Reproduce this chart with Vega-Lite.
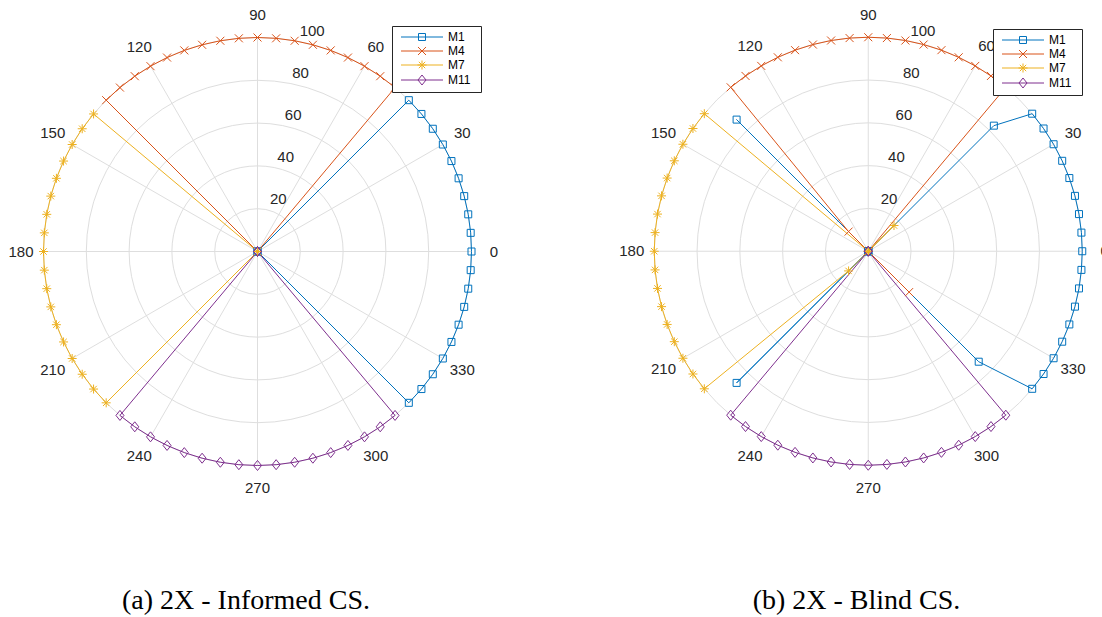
{
"$schema": "https://vega.github.io/schema/vega-lite/v6.json",
"padding": 0,
"spacing": 97,
"bounds": "flush",
"config": {"view": {"stroke": null}},
"resolve": {"scale": {"color": "independent", "shape": "independent", "stroke": "independent"}},
"datasets": {
"circles": [{"r": 20}, {"r": 40}, {"r": 60}, {"r": 80}, {"r": 100}],
"spokes": [{"t": 0, "r": 100}, {"t": 30, "r": 100}, {"t": 60, "r": 100}, {"t": 90, "r": 100}, {"t": 120, "r": 100}, {"t": 150, "r": 100}, {"t": 180, "r": 100}, {"t": 210, "r": 100}, {"t": 240, "r": 100}, {"t": 270, "r": 100}, {"t": 300, "r": 100}, {"t": 330, "r": 100}],
"alabels": [{"t": 0}, {"t": 30}, {"t": 60}, {"t": 90}, {"t": 120}, {"t": 150}, {"t": 180}, {"t": 210}, {"t": 240}, {"t": 270}, {"t": 300}, {"t": 330}],
"rlabels": [{"r": 20}, {"r": 40}, {"r": 60}, {"r": 80}, {"r": 100}],
"a": [
{"s":"M1","o":0,"t":0,"r":0},{"s":"M1","o":1,"t":-45,"r":100},{"s":"M1","o":2,"t":-40,"r":100},{"s":"M1","o":3,"t":-35,"r":100},{"s":"M1","o":4,"t":-30,"r":100},{"s":"M1","o":5,"t":-25,"r":100},{"s":"M1","o":6,"t":-20,"r":100},{"s":"M1","o":7,"t":-15,"r":100},{"s":"M1","o":8,"t":-10,"r":100},{"s":"M1","o":9,"t":-5,"r":100},{"s":"M1","o":10,"t":0,"r":100},{"s":"M1","o":11,"t":5,"r":100},{"s":"M1","o":12,"t":10,"r":100},{"s":"M1","o":13,"t":15,"r":100},{"s":"M1","o":14,"t":20,"r":100},{"s":"M1","o":15,"t":25,"r":100},{"s":"M1","o":16,"t":30,"r":100},{"s":"M1","o":17,"t":35,"r":100},{"s":"M1","o":18,"t":40,"r":100},{"s":"M1","o":19,"t":45,"r":100},{"s":"M1","o":20,"t":0,"r":0},
{"s":"M4","o":0,"t":0,"r":0},{"s":"M4","o":1,"t":50,"r":100},{"s":"M4","o":2,"t":55,"r":100},{"s":"M4","o":3,"t":60,"r":100},{"s":"M4","o":4,"t":65,"r":100},{"s":"M4","o":5,"t":70,"r":100},{"s":"M4","o":6,"t":75,"r":100},{"s":"M4","o":7,"t":80,"r":100},{"s":"M4","o":8,"t":85,"r":100},{"s":"M4","o":9,"t":90,"r":100},{"s":"M4","o":10,"t":95,"r":100},{"s":"M4","o":11,"t":100,"r":100},{"s":"M4","o":12,"t":105,"r":100},{"s":"M4","o":13,"t":110,"r":100},{"s":"M4","o":14,"t":115,"r":100},{"s":"M4","o":15,"t":120,"r":100},{"s":"M4","o":16,"t":125,"r":100},{"s":"M4","o":17,"t":130,"r":100},{"s":"M4","o":18,"t":135,"r":100},{"s":"M4","o":19,"t":0,"r":0},
{"s":"M7","o":0,"t":0,"r":0},{"s":"M7","o":1,"t":140,"r":100},{"s":"M7","o":2,"t":145,"r":100},{"s":"M7","o":3,"t":150,"r":100},{"s":"M7","o":4,"t":155,"r":100},{"s":"M7","o":5,"t":160,"r":100},{"s":"M7","o":6,"t":165,"r":100},{"s":"M7","o":7,"t":170,"r":100},{"s":"M7","o":8,"t":175,"r":100},{"s":"M7","o":9,"t":180,"r":100},{"s":"M7","o":10,"t":185,"r":100},{"s":"M7","o":11,"t":190,"r":100},{"s":"M7","o":12,"t":195,"r":100},{"s":"M7","o":13,"t":200,"r":100},{"s":"M7","o":14,"t":205,"r":100},{"s":"M7","o":15,"t":210,"r":100},{"s":"M7","o":16,"t":215,"r":100},{"s":"M7","o":17,"t":220,"r":100},{"s":"M7","o":18,"t":225,"r":100},{"s":"M7","o":19,"t":0,"r":0},
{"s":"M11","o":0,"t":0,"r":0},{"s":"M11","o":1,"t":230,"r":100},{"s":"M11","o":2,"t":235,"r":100},{"s":"M11","o":3,"t":240,"r":100},{"s":"M11","o":4,"t":245,"r":100},{"s":"M11","o":5,"t":250,"r":100},{"s":"M11","o":6,"t":255,"r":100},{"s":"M11","o":7,"t":260,"r":100},{"s":"M11","o":8,"t":265,"r":100},{"s":"M11","o":9,"t":270,"r":100},{"s":"M11","o":10,"t":275,"r":100},{"s":"M11","o":11,"t":280,"r":100},{"s":"M11","o":12,"t":285,"r":100},{"s":"M11","o":13,"t":290,"r":100},{"s":"M11","o":14,"t":295,"r":100},{"s":"M11","o":15,"t":300,"r":100},{"s":"M11","o":16,"t":305,"r":100},{"s":"M11","o":17,"t":310,"r":100},{"s":"M11","o":18,"t":0,"r":0}
],
"b": [
{"s":"M1","o":0,"t":0,"r":0},{"s":"M1","o":1,"t":135,"r":87},{"s":"M1","o":2,"t":0,"r":0},{"s":"M1","o":3,"t":225,"r":87},{"s":"M1","o":4,"t":0,"r":0},{"s":"M1","o":5,"t":315,"r":73},{"s":"M1","o":6,"t":320,"r":100},{"s":"M1","o":7,"t":325,"r":100},{"s":"M1","o":8,"t":330,"r":100},{"s":"M1","o":9,"t":335,"r":100},{"s":"M1","o":10,"t":340,"r":100},{"s":"M1","o":11,"t":345,"r":100},{"s":"M1","o":12,"t":350,"r":100},{"s":"M1","o":13,"t":355,"r":100},{"s":"M1","o":14,"t":0,"r":100},{"s":"M1","o":15,"t":5,"r":100},{"s":"M1","o":16,"t":10,"r":100},{"s":"M1","o":17,"t":15,"r":100},{"s":"M1","o":18,"t":20,"r":100},{"s":"M1","o":19,"t":25,"r":100},{"s":"M1","o":20,"t":30,"r":100},{"s":"M1","o":21,"t":35,"r":100},{"s":"M1","o":22,"t":40,"r":100},{"s":"M1","o":23,"t":45,"r":83},{"s":"M1","o":24,"t":0,"r":0},
{"s":"M4","o":0,"t":0,"r":0},{"s":"M4","o":1,"t":50,"r":100},{"s":"M4","o":2,"t":55,"r":100},{"s":"M4","o":3,"t":60,"r":100},{"s":"M4","o":4,"t":65,"r":100},{"s":"M4","o":5,"t":70,"r":100},{"s":"M4","o":6,"t":75,"r":100},{"s":"M4","o":7,"t":80,"r":100},{"s":"M4","o":8,"t":85,"r":100},{"s":"M4","o":9,"t":90,"r":100},{"s":"M4","o":10,"t":95,"r":100},{"s":"M4","o":11,"t":100,"r":100},{"s":"M4","o":12,"t":105,"r":100},{"s":"M4","o":13,"t":110,"r":100},{"s":"M4","o":14,"t":115,"r":100},{"s":"M4","o":15,"t":120,"r":100},{"s":"M4","o":16,"t":125,"r":100},{"s":"M4","o":17,"t":130,"r":100},{"s":"M4","o":18,"t":135,"r":13},{"s":"M4","o":19,"t":0,"r":0},{"s":"M4","o":20,"t":315,"r":27},{"s":"M4","o":21,"t":0,"r":0},
{"s":"M7","o":0,"t":0,"r":0},{"s":"M7","o":1,"t":45,"r":17},{"s":"M7","o":2,"t":0,"r":0},{"s":"M7","o":3,"t":140,"r":100},{"s":"M7","o":4,"t":145,"r":100},{"s":"M7","o":5,"t":150,"r":100},{"s":"M7","o":6,"t":155,"r":100},{"s":"M7","o":7,"t":160,"r":100},{"s":"M7","o":8,"t":165,"r":100},{"s":"M7","o":9,"t":170,"r":100},{"s":"M7","o":10,"t":175,"r":100},{"s":"M7","o":11,"t":180,"r":100},{"s":"M7","o":12,"t":185,"r":100},{"s":"M7","o":13,"t":190,"r":100},{"s":"M7","o":14,"t":195,"r":100},{"s":"M7","o":15,"t":200,"r":100},{"s":"M7","o":16,"t":205,"r":100},{"s":"M7","o":17,"t":210,"r":100},{"s":"M7","o":18,"t":215,"r":100},{"s":"M7","o":19,"t":220,"r":100},{"s":"M7","o":20,"t":225,"r":13},{"s":"M7","o":21,"t":0,"r":0},
{"s":"M11","o":0,"t":0,"r":0},{"s":"M11","o":1,"t":230,"r":100},{"s":"M11","o":2,"t":235,"r":100},{"s":"M11","o":3,"t":240,"r":100},{"s":"M11","o":4,"t":245,"r":100},{"s":"M11","o":5,"t":250,"r":100},{"s":"M11","o":6,"t":255,"r":100},{"s":"M11","o":7,"t":260,"r":100},{"s":"M11","o":8,"t":265,"r":100},{"s":"M11","o":9,"t":270,"r":100},{"s":"M11","o":10,"t":275,"r":100},{"s":"M11","o":11,"t":280,"r":100},{"s":"M11","o":12,"t":285,"r":100},{"s":"M11","o":13,"t":290,"r":100},{"s":"M11","o":14,"t":295,"r":100},{"s":"M11","o":15,"t":300,"r":100},{"s":"M11","o":16,"t":305,"r":100},{"s":"M11","o":17,"t":310,"r":100},{"s":"M11","o":18,"t":0,"r":0}
]
},
"hconcat": [
{
"width": 514, "height": 502,
"title": {"text": "(a) 2X - Informed CS.", "orient": "bottom", "anchor": "middle", "offset": 107, "baseline": "alphabetic", "dx": -11, "font": "Liberation Serif", "fontSize": 28, "fontWeight": "normal", "color": "black"},
"resolve": {"scale": {"shape": "independent", "stroke": "independent"}},
"layer": [
{"data": {"name": "circles"},
 "mark": {"type": "point", "shape": "circle", "filled": false, "stroke": "#dedede", "strokeWidth": 1, "opacity": 1},
 "encoding": {
  "x": {"datum": 0, "type": "quantitative", "scale": {"domain": [-120.3271, 119.8598], "nice": false, "zero": false}, "axis": null},
  "y": {"datum": 0, "type": "quantitative", "scale": {"domain": [-117.0561, 117.5234], "nice": false, "zero": false}, "axis": null},
  "size": {"field": "r", "type": "quantitative", "scale": {"type": "pow", "exponent": 2, "domain": [0, 100], "range": [0, 183184]}, "legend": null}
 }},
{"data": {"name": "spokes"},
 "transform": [{"calculate": "datum.r*cos(datum.t*PI/180)", "as": "x"}, {"calculate": "datum.r*sin(datum.t*PI/180)", "as": "y"}, {"calculate": "0", "as": "c"}],
 "mark": {"type": "rule", "stroke": "#dedede", "strokeWidth": 1},
 "encoding": {"x": {"field": "c", "type": "quantitative"}, "y": {"field": "c", "type": "quantitative"}, "x2": {"field": "x"}, "y2": {"field": "y"}}},
{"data": {"name": "alabels"},
 "transform": [{"calculate": "110.5*cos(datum.t*PI/180)", "as": "x"}, {"calculate": "110.5*sin(datum.t*PI/180)", "as": "y"}],
 "mark": {"type": "text", "font": "Liberation Sans", "fontSize": 15, "fill": "#262626", "align": "center", "baseline": "middle"},
 "encoding": {"x": {"field": "x", "type": "quantitative"}, "y": {"field": "y", "type": "quantitative"}, "text": {"field": "t", "type": "quantitative"}}},
{"data": {"name": "rlabels"},
 "transform": [{"calculate": "datum.r*cos(80*PI/180)", "as": "x"}, {"calculate": "datum.r*sin(80*PI/180)", "as": "y"}],
 "mark": {"type": "text", "font": "Liberation Sans", "fontSize": 15, "fill": "#262626", "align": "left", "baseline": "alphabetic", "dx": 5, "dy": -5},
 "encoding": {"x": {"field": "x", "type": "quantitative"}, "y": {"field": "y", "type": "quantitative"}, "text": {"field": "r", "type": "quantitative"}}},
{"data": {"name": "a"},
 "transform": [{"filter": "datum.s == 'M1'"}, {"calculate": "datum.r*cos(datum.t*PI/180)", "as": "x"}, {"calculate": "datum.r*sin(datum.t*PI/180)", "as": "y"}],
 "mark": {"type": "line", "strokeWidth": 1, "stroke": "#0072BD"},
 "encoding": {"x": {"field": "x", "type": "quantitative"}, "y": {"field": "y", "type": "quantitative"}, "order": {"field": "o", "type": "quantitative"}}},
{"data": {"name": "a"},
 "transform": [{"filter": "datum.s == 'M4'"}, {"calculate": "datum.r*cos(datum.t*PI/180)", "as": "x"}, {"calculate": "datum.r*sin(datum.t*PI/180)", "as": "y"}],
 "mark": {"type": "line", "strokeWidth": 1, "stroke": "#D95319"},
 "encoding": {"x": {"field": "x", "type": "quantitative"}, "y": {"field": "y", "type": "quantitative"}, "order": {"field": "o", "type": "quantitative"}}},
{"data": {"name": "a"},
 "transform": [{"filter": "datum.s == 'M7'"}, {"calculate": "datum.r*cos(datum.t*PI/180)", "as": "x"}, {"calculate": "datum.r*sin(datum.t*PI/180)", "as": "y"}],
 "mark": {"type": "line", "strokeWidth": 1, "stroke": "#EDB120"},
 "encoding": {"x": {"field": "x", "type": "quantitative"}, "y": {"field": "y", "type": "quantitative"}, "order": {"field": "o", "type": "quantitative"}}},
{"data": {"name": "a"},
 "transform": [{"filter": "datum.s == 'M11'"}, {"calculate": "datum.r*cos(datum.t*PI/180)", "as": "x"}, {"calculate": "datum.r*sin(datum.t*PI/180)", "as": "y"}],
 "mark": {"type": "line", "strokeWidth": 1, "stroke": "#7E2F8E"},
 "encoding": {"x": {"field": "x", "type": "quantitative"}, "y": {"field": "y", "type": "quantitative"}, "order": {"field": "o", "type": "quantitative"}}},
{"data": {"name": "a"},
 "transform": [{"calculate": "datum.r*cos(datum.t*PI/180)", "as": "x"}, {"calculate": "datum.r*sin(datum.t*PI/180)", "as": "y"}],
 "mark": {"type": "point", "filled": false, "size": 64, "strokeWidth": 1, "opacity": 1},
 "encoding": {"x": {"field": "x", "type": "quantitative"}, "y": {"field": "y", "type": "quantitative"},
  "color": {"field": "s", "type": "nominal", "scale": {"domain": ["M1", "M4", "M7", "M11"], "range": ["#0072BD", "#D95319", "#EDB120", "#7E2F8E"]}, "legend": null},
  "shape": {"field": "s", "type": "nominal", "scale": {"domain": ["M1", "M4", "M7", "M11"], "range": ["M-0.875,-0.875H0.875V0.875H-0.875Z", "M-1,-1L1,1M-1,1L1,-1", "M-1.125,0H1.125M0,-1.125V1.125M-0.8,-0.8L0.8,0.8M-0.8,0.8L0.8,-0.8", "M0,-1.25L1,0L0,1.25L-1,0Z"]}, "legend": null}
 }},
{"data": {"name": "a"},
 "transform": [{"filter": "datum.o == 0"}],
 "mark": {"type": "point", "filled": false, "size": 144, "strokeWidth": 1, "opacity": 0},
 "encoding": {"x": {"datum": 0, "type": "quantitative"}, "y": {"datum": 0, "type": "quantitative"},
  "stroke": {"field": "s", "type": "nominal", "scale": {"domain": ["M1", "M4", "M7", "M11"], "range": ["#0072BD", "#D95319", "#EDB120", "#7E2F8E"]},
   "legend": {"orient": "none", "legendX": 392, "legendY": 26, "title": " ", "titleOrient": "right", "titlePadding": 6, "titleFontSize": 12, "symbolSize": 144, "symbolStrokeWidth": 1, "symbolOffset": 4, "symbolOpacity": 1, "symbolFillColor": "transparent", "labelOffset": 34.5, "labelFont": "Liberation Sans", "labelFontSize": 12, "labelColor": "black", "padding": 4.5, "rowPadding": 1, "fillColor": "white", "strokeColor": "#262626"}},
  "shape": {"field": "s", "type": "nominal", "scale": {"domain": ["M1", "M4", "M7", "M11"], "range": ["M-1,0H6M1.917,-0.583H3.083V0.583H1.917Z", "M-1,0H6M1.833,-0.667L3.167,0.667M1.833,0.667L3.167,-0.667", "M-1,0H6M1.75,0H3.25M2.5,-0.75V0.75M1.967,-0.533L3.033,0.533M1.967,0.533L3.033,-0.533", "M-1,0H6M2.5,-0.833L3.167,0L2.5,0.833L1.833,0Z"]},
   "legend": {"orient": "none", "legendX": 392, "legendY": 26, "title": " ", "titleOrient": "right", "titlePadding": 6, "titleFontSize": 12, "symbolSize": 144, "symbolStrokeWidth": 1, "symbolOffset": 4, "symbolOpacity": 1, "symbolFillColor": "transparent", "labelOffset": 34.5, "labelFont": "Liberation Sans", "labelFontSize": 12, "labelColor": "black", "padding": 4.5, "rowPadding": 1, "fillColor": "white", "strokeColor": "#262626"}}
 }}
]
},
{
"width": 491, "height": 502,
"title": {"text": "(b) 2X - Blind CS.", "orient": "bottom", "anchor": "middle", "offset": 107, "baseline": "alphabetic", "font": "Liberation Serif", "fontSize": 28, "fontWeight": "normal", "color": "black"},
"resolve": {"scale": {"shape": "independent", "stroke": "independent"}},
"layer": [
{"data": {"name": "circles"},
 "mark": {"type": "point", "shape": "circle", "filled": false, "stroke": "#dedede", "strokeWidth": 1, "opacity": 1},
 "encoding": {
  "x": {"datum": 0, "type": "quantitative", "scale": {"domain": [-120.2103, 109.2290], "nice": false, "zero": false}, "axis": null},
  "y": {"datum": 0, "type": "quantitative", "scale": {"domain": [-117.1729, 117.4065], "nice": false, "zero": false}, "axis": null},
  "size": {"field": "r", "type": "quantitative", "scale": {"type": "pow", "exponent": 2, "domain": [0, 100], "range": [0, 183184]}, "legend": null}
 }},
{"data": {"name": "spokes"},
 "transform": [{"calculate": "datum.r*cos(datum.t*PI/180)", "as": "x"}, {"calculate": "datum.r*sin(datum.t*PI/180)", "as": "y"}, {"calculate": "0", "as": "c"}],
 "mark": {"type": "rule", "stroke": "#dedede", "strokeWidth": 1},
 "encoding": {"x": {"field": "c", "type": "quantitative"}, "y": {"field": "c", "type": "quantitative"}, "x2": {"field": "x"}, "y2": {"field": "y"}}},
{"data": {"name": "alabels"},
 "transform": [{"calculate": "110.5*cos(datum.t*PI/180)", "as": "x"}, {"calculate": "110.5*sin(datum.t*PI/180)", "as": "y"}],
 "mark": {"type": "text", "font": "Liberation Sans", "fontSize": 15, "fill": "#262626", "align": "center", "baseline": "middle", "clip": true},
 "encoding": {"x": {"field": "x", "type": "quantitative"}, "y": {"field": "y", "type": "quantitative"}, "text": {"field": "t", "type": "quantitative"}}},
{"data": {"name": "rlabels"},
 "transform": [{"calculate": "datum.r*cos(80*PI/180)", "as": "x"}, {"calculate": "datum.r*sin(80*PI/180)", "as": "y"}],
 "mark": {"type": "text", "font": "Liberation Sans", "fontSize": 15, "fill": "#262626", "align": "left", "baseline": "alphabetic", "dx": 5, "dy": -5},
 "encoding": {"x": {"field": "x", "type": "quantitative"}, "y": {"field": "y", "type": "quantitative"}, "text": {"field": "r", "type": "quantitative"}}},
{"data": {"name": "b"},
 "transform": [{"filter": "datum.s == 'M1'"}, {"calculate": "datum.r*cos(datum.t*PI/180)", "as": "x"}, {"calculate": "datum.r*sin(datum.t*PI/180)", "as": "y"}],
 "mark": {"type": "line", "strokeWidth": 1, "stroke": "#0072BD"},
 "encoding": {"x": {"field": "x", "type": "quantitative"}, "y": {"field": "y", "type": "quantitative"}, "order": {"field": "o", "type": "quantitative"}}},
{"data": {"name": "b"},
 "transform": [{"filter": "datum.s == 'M4'"}, {"calculate": "datum.r*cos(datum.t*PI/180)", "as": "x"}, {"calculate": "datum.r*sin(datum.t*PI/180)", "as": "y"}],
 "mark": {"type": "line", "strokeWidth": 1, "stroke": "#D95319"},
 "encoding": {"x": {"field": "x", "type": "quantitative"}, "y": {"field": "y", "type": "quantitative"}, "order": {"field": "o", "type": "quantitative"}}},
{"data": {"name": "b"},
 "transform": [{"filter": "datum.s == 'M7'"}, {"calculate": "datum.r*cos(datum.t*PI/180)", "as": "x"}, {"calculate": "datum.r*sin(datum.t*PI/180)", "as": "y"}],
 "mark": {"type": "line", "strokeWidth": 1, "stroke": "#EDB120"},
 "encoding": {"x": {"field": "x", "type": "quantitative"}, "y": {"field": "y", "type": "quantitative"}, "order": {"field": "o", "type": "quantitative"}}},
{"data": {"name": "b"},
 "transform": [{"filter": "datum.s == 'M11'"}, {"calculate": "datum.r*cos(datum.t*PI/180)", "as": "x"}, {"calculate": "datum.r*sin(datum.t*PI/180)", "as": "y"}],
 "mark": {"type": "line", "strokeWidth": 1, "stroke": "#7E2F8E"},
 "encoding": {"x": {"field": "x", "type": "quantitative"}, "y": {"field": "y", "type": "quantitative"}, "order": {"field": "o", "type": "quantitative"}}},
{"data": {"name": "b"},
 "transform": [{"calculate": "datum.r*cos(datum.t*PI/180)", "as": "x"}, {"calculate": "datum.r*sin(datum.t*PI/180)", "as": "y"}],
 "mark": {"type": "point", "filled": false, "size": 64, "strokeWidth": 1, "opacity": 1},
 "encoding": {"x": {"field": "x", "type": "quantitative"}, "y": {"field": "y", "type": "quantitative"},
  "color": {"field": "s", "type": "nominal", "scale": {"domain": ["M1", "M4", "M7", "M11"], "range": ["#0072BD", "#D95319", "#EDB120", "#7E2F8E"]}, "legend": null},
  "shape": {"field": "s", "type": "nominal", "scale": {"domain": ["M1", "M4", "M7", "M11"], "range": ["M-0.875,-0.875H0.875V0.875H-0.875Z", "M-1,-1L1,1M-1,1L1,-1", "M-1.125,0H1.125M0,-1.125V1.125M-0.8,-0.8L0.8,0.8M-0.8,0.8L0.8,-0.8", "M0,-1.25L1,0L0,1.25L-1,0Z"]}, "legend": null}
 }},
{"data": {"name": "b"},
 "transform": [{"filter": "datum.o == 0"}],
 "mark": {"type": "point", "filled": false, "size": 144, "strokeWidth": 1, "opacity": 0},
 "encoding": {"x": {"datum": 0, "type": "quantitative"}, "y": {"datum": 0, "type": "quantitative"},
  "stroke": {"field": "s", "type": "nominal", "scale": {"domain": ["M1", "M4", "M7", "M11"], "range": ["#0072BD", "#D95319", "#EDB120", "#7E2F8E"]},
   "legend": {"orient": "none", "legendX": 382, "legendY": 29, "title": " ", "titleOrient": "right", "titlePadding": 6, "titleFontSize": 12, "symbolSize": 144, "symbolStrokeWidth": 1, "symbolOffset": 4, "symbolOpacity": 1, "symbolFillColor": "transparent", "labelOffset": 34.5, "labelFont": "Liberation Sans", "labelFontSize": 12, "labelColor": "black", "padding": 4.5, "rowPadding": 1, "fillColor": "white", "strokeColor": "#262626"}},
  "shape": {"field": "s", "type": "nominal", "scale": {"domain": ["M1", "M4", "M7", "M11"], "range": ["M-1,0H6M1.917,-0.583H3.083V0.583H1.917Z", "M-1,0H6M1.833,-0.667L3.167,0.667M1.833,0.667L3.167,-0.667", "M-1,0H6M1.75,0H3.25M2.5,-0.75V0.75M1.967,-0.533L3.033,0.533M1.967,0.533L3.033,-0.533", "M-1,0H6M2.5,-0.833L3.167,0L2.5,0.833L1.833,0Z"]},
   "legend": {"orient": "none", "legendX": 382, "legendY": 29, "title": " ", "titleOrient": "right", "titlePadding": 6, "titleFontSize": 12, "symbolSize": 144, "symbolStrokeWidth": 1, "symbolOffset": 4, "symbolOpacity": 1, "symbolFillColor": "transparent", "labelOffset": 34.5, "labelFont": "Liberation Sans", "labelFontSize": 12, "labelColor": "black", "padding": 4.5, "rowPadding": 1, "fillColor": "white", "strokeColor": "#262626"}}
 }}
]
}
]
}
